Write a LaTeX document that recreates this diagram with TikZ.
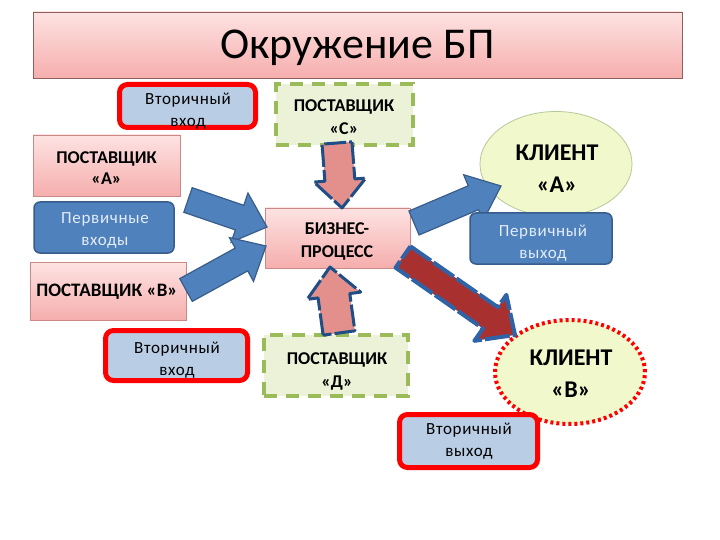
\documentclass[tikz,border=0pt]{standalone}
\usepackage{fontspec}
\setmainfont{Carlito}
\newfontfamily\spacedfont{Carlito}[LetterSpace=4]
\usetikzlibrary{calc,shapes.geometric}
\definecolor{pinktop}{HTML}{FDE3E2}
\definecolor{pinkbot}{HTML}{F5AEAD}
\definecolor{pinkline}{HTML}{C98986}
\definecolor{blueF}{HTML}{4F81BD}
\definecolor{blueL}{HTML}{385D8A}
\definecolor{blueT}{HTML}{E4ECF7}
\definecolor{secF}{HTML}{B9CDE5}
\definecolor{secL}{HTML}{FF0000}
\definecolor{grnF}{HTML}{EBF2D8}
\definecolor{grnL}{HTML}{9BBB59}
\definecolor{cliF}{HTML}{F1F8CB}
\definecolor{cliL}{HTML}{B5C99A}
\definecolor{salmon}{HTML}{E3908C}
\definecolor{navy}{HTML}{1F4E86}
\definecolor{dred}{HTML}{A8312F}
\definecolor{dblue}{HTML}{2F63A8}
\tikzset{
  pinkbox/.style={rectangle, draw=pinkline, line width=0.8pt, top color=pinktop, bottom color=pinkbot, inner sep=0pt},
  bluebox/.style={rectangle, rounded corners=6pt, draw=blueL, line width=1.5pt, fill=blueF, inner sep=0pt},
  secbox/.style={rectangle, rounded corners=8pt, draw=secL, line width=5pt, fill=secF, inner sep=0pt},
  supbox/.style={rectangle, draw=grnL, line width=4pt, dash pattern=on 13pt off 9pt, fill=grnF, inner sep=0pt},
  cliell/.style={ellipse, fill=cliF, inner sep=0pt},
  smalltxt/.style={align=center, inner sep=0pt, font=\spacedfont\fontsize{17}{22}\selectfont},
  whitetxt/.style={smalltxt, text=blueT},
  boldtxt/.style={align=center, inner sep=0pt, font=\bfseries\fontsize{18}{23}\selectfont},
  clitxt/.style={align=center, inner sep=0pt, font=\bfseries\fontsize{24}{32}\selectfont},
  pinkarrow/.style={fill=salmon, draw=navy, line width=3pt, line join=round, dash pattern=on 22pt off 3pt},
  bluearrow/.style={fill=blueF, draw=blueL, line width=1.2pt, line join=miter},
  redarrow/.style={fill=dred, draw=dblue, line width=4pt, line join=round, dash pattern=on 25pt off 3pt},
}
\newcommand\fatarrow[7]{%
  \coordinate (#2T) at #3; \coordinate (#2P) at #4;
  \coordinate (#2M) at ($(#2P)!#7pt!(#2T)$);
  \path[#1] ($(#2T)!#5pt!90:(#2P)$) -- ($(#2M)!#5pt!90:(#2P)$) -- ($(#2M)!#6pt!90:(#2P)$) -- (#2P) -- ($(#2M)!#6pt!-90:(#2P)$) -- ($(#2M)!#5pt!-90:(#2P)$) -- ($(#2T)!#5pt!-90:(#2P)$) -- cycle;}
\begin{document}
\begin{tikzpicture}[x=1pt,y=-1pt]
\useasboundingbox[fill=white] (0,0) rectangle (720,540);
% title
\node[pinkbox, draw=pinkline!70!black, minimum width=649pt, minimum height=66pt] (title) at (357.5,45) {};
\node[inner sep=0pt, font=\fontsize{44}{50}\selectfont] (titleT) at (357.5,48) {Окружение БП};
% clients
\node[cliell, draw=cliL, line width=0.8pt, minimum width=152pt, minimum height=105pt] (cliA) at (556,164) {};
\node[clitxt] (cliAT) at (557,169) {КЛИЕНТ\\«А»};
\node[cliell, draw=secL, line width=4pt, dash pattern=on 3pt off 3pt, minimum width=150pt, minimum height=104pt] (cliB) at (570,372) {};
\node[clitxt] (cliBT) at (571,374) {КЛИЕНТ\\«В»};
% suppliers C, D
\node[supbox, minimum width=137pt, minimum height=61pt] (supC) at (344.5,114.5) {};
\node[boldtxt] (supCT) at (344,117) {ПОСТАВЩИК\\«С»};
\node[supbox, minimum width=144pt, minimum height=61pt] (supD) at (336,365.5) {};
\node[boldtxt] (supDT) at (337,371) {ПОСТАВЩИК\\«Д»};
% other boxes
\node[secbox, minimum width=136pt, minimum height=43pt] (sec1) at (187.5,106) {};
\node[smalltxt] (sec1T) at (188,111) {Вторичный\\вход};
\node[pinkbox, minimum width=147pt, minimum height=61pt] (supA) at (106.5,165.5) {};
\node[boldtxt, font=\bfseries\fontsize{18}{21}\selectfont] (supAT) at (106.5,168) {ПОСТАВЩИК\\«А»};
\node[bluebox, minimum width=140pt, minimum height=51pt] (primIn) at (104,227.5) {};
\node[whitetxt] (primInT) at (105,230) {Первичные\\входы};
\node[pinkbox, minimum width=145pt, minimum height=60pt] (bp) at (337.5,238) {};
\node[boldtxt] (bpT) at (337,241) {БИЗНЕС-\\ПРОЦЕСС};
\node[pinkbox, minimum width=156pt, minimum height=58pt] (supB) at (108,291) {};
\node[boldtxt, font=\bfseries\fontsize{19}{23}\selectfont] (supBT) at (107,292) {ПОСТАВЩИК «В»};
\node[secbox, minimum width=142pt, minimum height=50pt] (sec2) at (176.5,355.5) {};
\node[smalltxt] (sec2T) at (177,360) {Вторичный\\вход};
% block arrows
\fatarrow{bluearrow}{a1}{(188,200)}{(267,227)}{13}{26}{29}
\fatarrow{bluearrow}{a2}{(186,290)}{(266,246)}{13}{25}{28}
\fatarrow{bluearrow}{a3}{(414,223)}{(501,186)}{13}{25}{30}
\fatarrow{redarrow}{a4}{(403,257)}{(515,335)}{13}{28}{30}
\fatarrow{pinkarrow}{a5}{(337,143)}{(342,208)}{15}{26}{28}
\fatarrow{pinkarrow}{a6}{(339,333)}{(330,267)}{16}{27}{29}
% boxes on top of arrows
\node[bluebox, minimum width=142pt, minimum height=51pt] (primOut) at (541,238.5) {};
\node[whitetxt] (primOutT) at (543,243) {Первичный\\выход};
\node[secbox, minimum width=138pt, minimum height=53pt] (secOut) at (468.5,441) {};
\node[smalltxt] (secOutT) at (469,441) {Вторичный\\выход};
\end{tikzpicture}
\end{document}
